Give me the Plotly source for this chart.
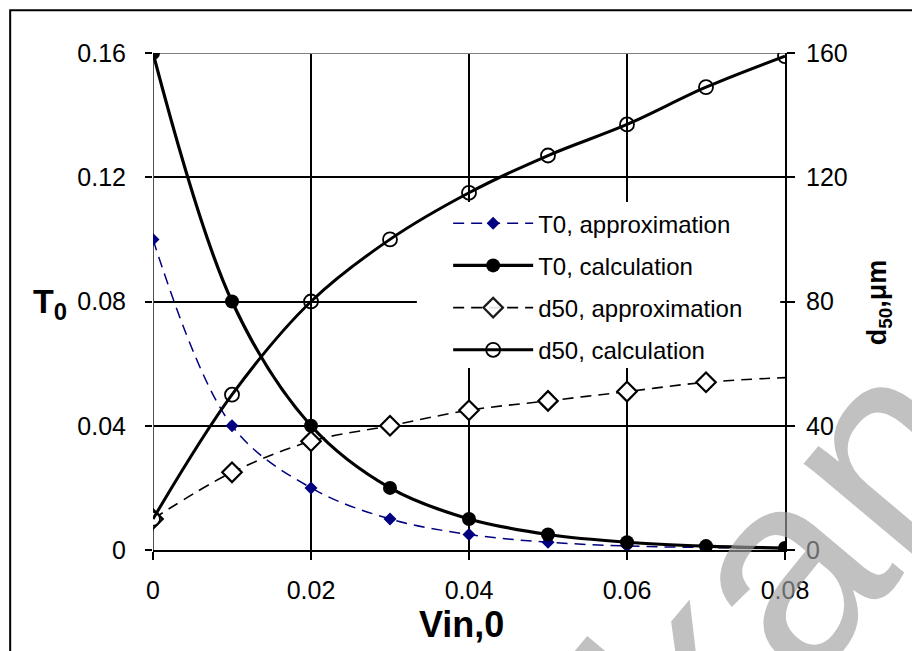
import plotly.graph_objects as go

vin = [0, 0.01, 0.02, 0.03, 0.04, 0.05, 0.06, 0.07, 0.08]
t0_approx = [0.1, 0.04, 0.02, 0.01, 0.005, 0.0025, 0.0013, 0.0008, 0.0005]
t0_calc = [0.16, 0.08, 0.04, 0.02, 0.01, 0.005, 0.0025, 0.00125, 0.000625]
d50_approx = [10, 25, 35, 40, 45, 48, 51, 54, 55.5]
d50_calc = [10, 50, 80, 100, 115, 127, 137, 149, 159]
d50_approx_marker_opacity = [1, 1, 1, 1, 1, 1, 1, 1, 0]

x_ticks = [0, 0.02, 0.04, 0.06, 0.08]
x_ticklabels = ["0", "0.02", "0.04", "0.06", "0.08"]
y_ticks = [0, 0.04, 0.08, 0.12, 0.16]
y_ticklabels = ["0", "0.04", "0.08", "0.12", "0.16"]
y2_ticks = [0, 40, 80, 120, 160]
y2_ticklabels = ["0", "40", "80", "120", "160"]

FONT = "Liberation Sans, Arial, sans-serif"
TICKFONT = dict(family=FONT, size=25, color="black")

fig = go.Figure()
fig.add_trace(go.Scatter(
    x=vin, y=t0_approx, name="T0, approximation", mode="lines+markers",
    line=dict(color="#000080", width=1.5, dash="11px,7px", shape="spline", smoothing=1),
    marker=dict(symbol="diamond", size=10, color="#000080"),
    legendgroup="a"))
fig.add_trace(go.Scatter(
    x=vin, y=t0_calc, name="T0, calculation", mode="lines+markers",
    line=dict(color="black", width=3.2, shape="spline", smoothing=1),
    marker=dict(symbol="circle", size=14, color="black"),
    legendgroup="b"))
fig.add_trace(go.Scatter(
    x=vin, y=d50_approx, name="d50, approximation", mode="lines+markers",
    line=dict(color="black", width=1.6, dash="11px,7px", shape="spline", smoothing=1),
    marker=dict(symbol="diamond", size=15, color="white",
                opacity=d50_approx_marker_opacity,
                line=dict(color="#000000", width=2.2)),
    yaxis="y2", legendgroup="c"))
fig.add_trace(go.Scatter(
    x=vin, y=d50_calc, name="d50, calculation", mode="lines+markers",
    line=dict(color="black", width=3, shape="spline", smoothing=1),
    marker=dict(symbol="circle-open", size=14, color="black",
                line=dict(color="black", width=1.8)),
    yaxis="y2", legendgroup="d"))

fig.update_layout(
    width=912, height=651,
    margin=dict(l=153, r=127, t=53, b=101),
    paper_bgcolor="white", plot_bgcolor="rgba(0,0,0,0)",
    font=dict(family=FONT, size=24, color="black"),
    showlegend=True,
    legend=dict(
        x=0.467, xanchor="left", y=0.702, yanchor="top",
        bgcolor="rgba(0,0,0,0)", borderwidth=0,
        font=dict(family=FONT, size=24, color="black"),
        itemwidth=80, traceorder="grouped", tracegroupgap=8,
    ),
    xaxis=dict(
        range=[0, 0.08], tickvals=x_ticks, ticktext=x_ticklabels,
        tickfont=TICKFONT,
        showgrid=True, gridcolor="black", gridwidth=1.5,
        zeroline=False, showline=True, linecolor="black", linewidth=2,
        ticks="outside", ticklen=8, tickwidth=1.5, tickcolor="black",
        ticklabelstandoff=9,
    ),
    yaxis=dict(
        range=[0, 0.16], tickvals=y_ticks, ticktext=y_ticklabels,
        tickfont=TICKFONT,
        showgrid=True, gridcolor="black", gridwidth=1.5,
        zeroline=False, showline=False,
        ticks="outside", ticklen=7, tickwidth=1.5, tickcolor="black",
        ticklabelstandoff=14,
    ),
    yaxis2=dict(
        range=[0, 160], tickvals=y2_ticks, ticktext=y2_ticklabels,
        tickfont=TICKFONT,
        overlaying="y", side="right", showgrid=False, zeroline=False,
        showline=True, linecolor="black", linewidth=2,
        ticks="outside", ticklen=8, tickwidth=1.5, tickcolor="black",
        ticklabelstandoff=6,
    ),
    shapes=[
        dict(type="rect", xref="x", yref="y",
             x0=0.0334, x1=0.0794, y0=0.0586, y1=0.112,
             fillcolor="white", line=dict(width=0), layer="between"),
        dict(type="line", xref="x", yref="y", x0=0, x1=0.08, y0=0.16, y1=0.16,
             line=dict(color="#808080", width=2), layer="between"),
        dict(type="line", xref="x", yref="y", x0=0, x1=0, y0=0, y1=0.16,
             line=dict(color="#505050", width=2), layer="between"),
        dict(type="rect", xref="paper", yref="paper",
             x0=-0.226, x1=1.25, y0=-0.35, y1=1.086,
             line=dict(color="black", width=2), layer="below"),
    ],
    annotations=[
        dict(text="<b>T<sub>0</sub></b>", xref="paper", yref="paper",
             x=-0.163, y=0.495, xanchor="center", yanchor="middle",
             showarrow=False, font=dict(size=34, family=FONT)),
        dict(text="<b>d<sub>50</sub>,μm</b>", xref="paper", yref="paper",
             x=1.149, y=0.499, xanchor="center", yanchor="middle",
             showarrow=False, textangle=-90,
             font=dict(size=27, family=FONT)),
        dict(text="<b>Vin,0</b>", xref="paper", yref="paper",
             x=0.488, y=-0.149, xanchor="center", yanchor="middle",
             showarrow=False, font=dict(size=36, family=FONT)),
        dict(text="kan", xref="paper", yref="paper", x=1.0, y=-0.03,
             xanchor="center", yanchor="middle",
             showarrow=False, textangle=-50,
             font=dict(size=280, family=FONT, color="rgba(160,160,160,0.65)")),
    ],
)

fig.write_html("out.html", config={"displayModeBar": False},
               post_script="document.body.style.margin='0px';")
